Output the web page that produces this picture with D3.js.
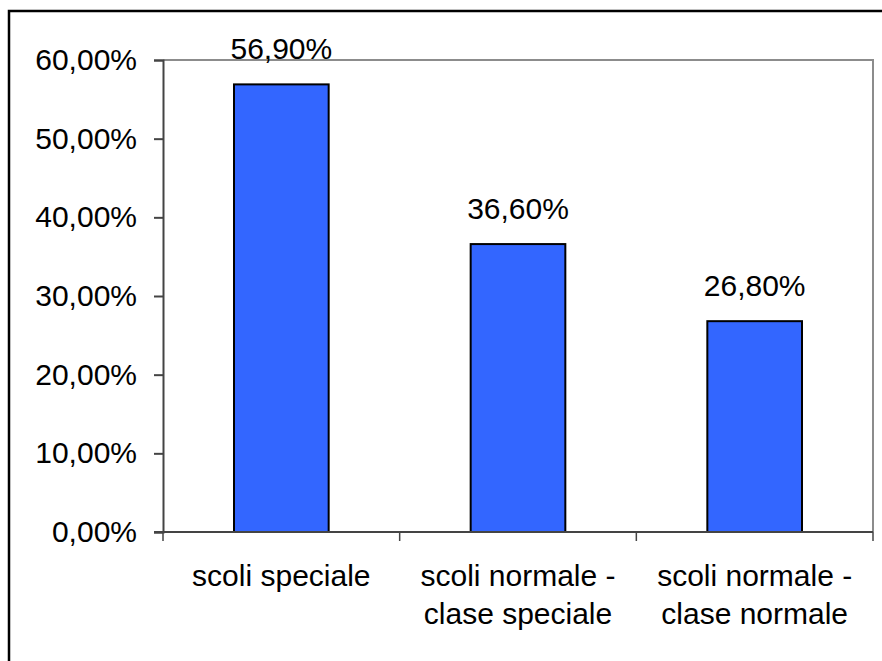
<!DOCTYPE html>
<html>
<head>
<meta charset="utf-8">
<script src="https://cdn.jsdelivr.net/npm/d3@7"></script>
<style>
  html, body { margin: 0; padding: 0; background: #fff; }
  svg { display: block; }
  text { font-family: "Liberation Sans", Arial, sans-serif; fill: #000; }
</style>
</head>
<body>
<svg id="chart" width="882" height="661"></svg>
<script>
// Data
const categories = [
  ["scoli speciale"],
  ["scoli normale -", "clase speciale"],
  ["scoli normale -", "clase normale"]
];
const values = [56.9, 36.6, 26.8];
const valueLabels = ["56,90%", "36,60%", "26,80%"];
const yTicks = [0, 10, 20, 30, 40, 50, 60];
const yTickLabels = ["0,00%", "10,00%", "20,00%", "30,00%", "40,00%", "50,00%", "60,00%"];

const svg = d3.select("#chart");
const W = 882, H = 661;
const plot = { left: 163, right: 873, top: 60, bottom: 532 };
const fontSize = 30;

// Outer frame (right and bottom edges fall outside the canvas)
svg.append("rect")
  .attr("x", 9).attr("y", 11)
  .attr("width", W + 20).attr("height", H + 20)
  .attr("fill", "#fff")
  .attr("stroke", "#000")
  .attr("stroke-width", 2.5);

const x = d3.scaleBand()
  .domain(d3.range(categories.length))
  .range([plot.left, plot.right])
  .paddingInner(0)
  .paddingOuter(0);

const y = d3.scaleLinear()
  .domain([0, 60])
  .range([plot.bottom, plot.top]);

// Plot area border (top and right in gray)
svg.append("path")
  .attr("d", `M${plot.left},${plot.top}H${plot.right}V${plot.bottom}`)
  .attr("fill", "none")
  .attr("stroke", "#8c8c8c")
  .attr("stroke-width", 2);

// Bars
const barW = x.bandwidth() * 0.4;
svg.selectAll("rect.bar")
  .data(values)
  .join("rect")
  .attr("class", "bar")
  .attr("x", (d, i) => x(i) + (x.bandwidth() - barW) / 2)
  .attr("y", d => y(d))
  .attr("width", barW)
  .attr("height", d => y(0) - y(d))
  .attr("fill", "#3366ff")
  .attr("stroke", "#000")
  .attr("stroke-width", 2);

// Y axis
const yAxis = d3.axisLeft(y)
  .tickValues(yTicks)
  .tickFormat((d, i) => yTickLabels[i])
  .tickSize(9)
  .tickPadding(17);
const gy = svg.append("g")
  .attr("transform", `translate(${plot.left},0)`)
  .call(yAxis);
gy.select(".domain").attr("stroke", "#444").attr("stroke-width", 2);
gy.selectAll(".tick line").attr("stroke", "#444").attr("stroke-width", 2);
gy.selectAll(".tick text")
  .attr("font-size", fontSize)
  .attr("font-family", "Liberation Sans, Arial, sans-serif")
  .attr("dy", "0.32em");

// X axis with ticks at category boundaries
const gx = svg.append("g").attr("transform", `translate(0,${plot.bottom})`);
gx.append("line")
  .attr("x1", plot.left - 9).attr("x2", plot.right)
  .attr("stroke", "#444").attr("stroke-width", 2);
const boundaries = d3.range(categories.length + 1).map(i =>
  i < categories.length ? x(i) : x(categories.length - 1) + x.bandwidth());
gx.selectAll("line.tick")
  .data(boundaries)
  .join("line")
  .attr("class", "tick")
  .attr("x1", d => d).attr("x2", d => d)
  .attr("y1", 0).attr("y2", 9)
  .attr("stroke", "#444").attr("stroke-width", 1.5);

// Category labels
const catText = svg.selectAll("text.cat")
  .data(categories)
  .join("text")
  .attr("class", "cat")
  .attr("text-anchor", "middle")
  .attr("font-size", fontSize)
  .attr("x", (d, i) => x(i) + x.bandwidth() / 2)
  .attr("y", 586);
catText.selectAll("tspan")
  .data(d => d)
  .join("tspan")
  .attr("x", function () { return d3.select(this.parentNode).attr("x"); })
  .attr("dy", (d, i) => i === 0 ? 0 : 38)
  .text(d => d);

// Value labels
svg.selectAll("text.val")
  .data(values)
  .join("text")
  .attr("class", "val")
  .attr("text-anchor", "middle")
  .attr("font-size", fontSize)
  .attr("x", (d, i) => x(i) + x.bandwidth() / 2)
  .attr("y", d => y(d) - 25)
  .text((d, i) => valueLabels[i]);
</script>
</body>
</html>
